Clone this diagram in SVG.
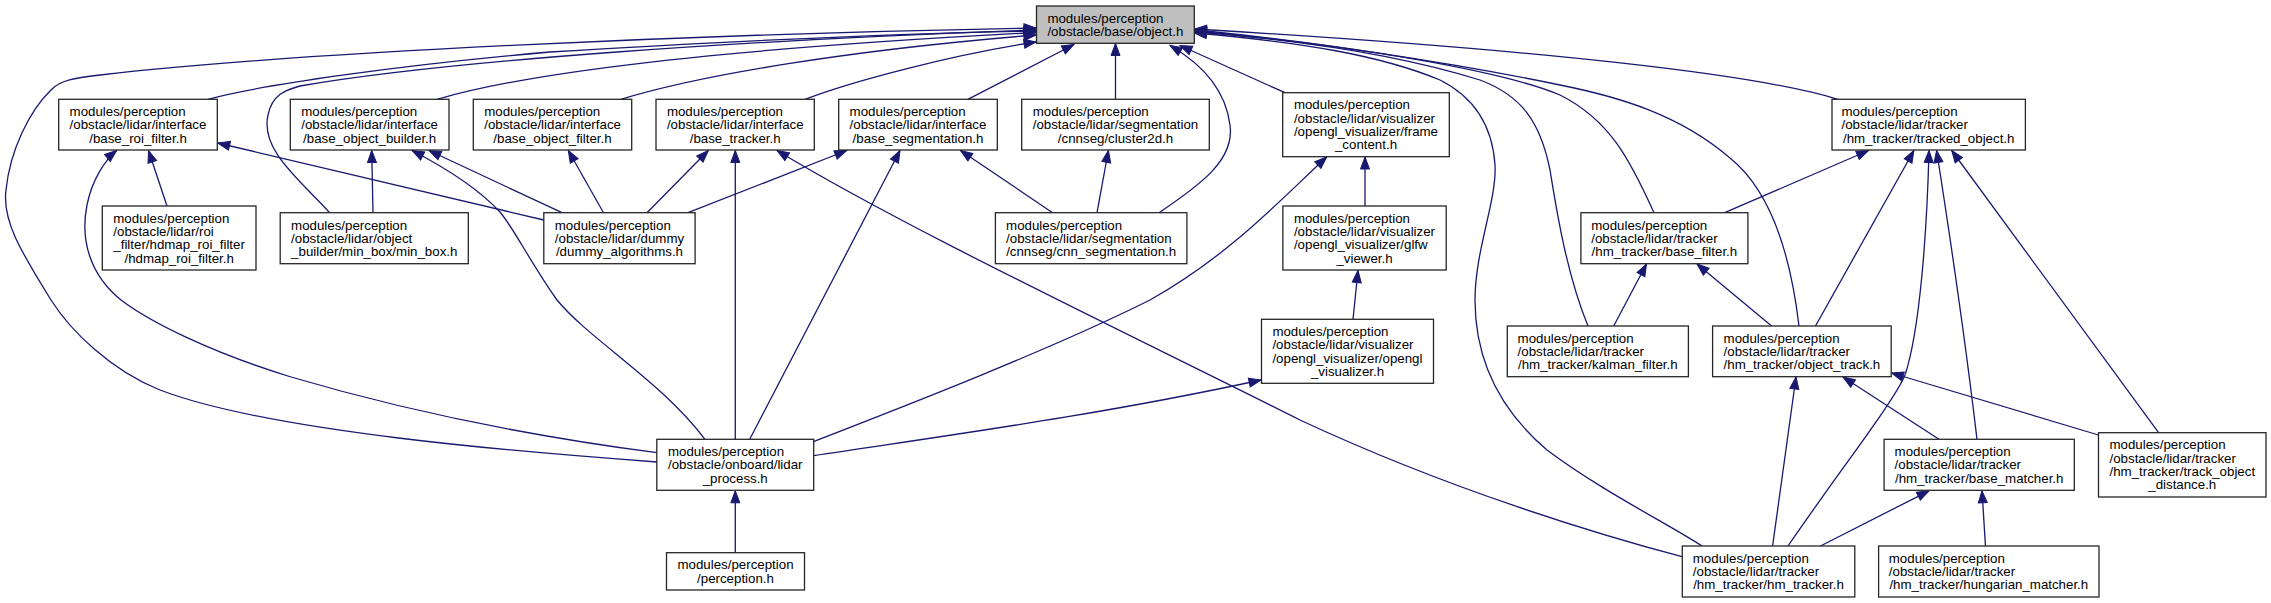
<svg xmlns="http://www.w3.org/2000/svg" width="2271" height="603" viewBox="0 0 2271 603">
<defs>
<style>
.n rect{fill:#ffffff;stroke:#262626;stroke-width:1.3}
.n.root rect{fill:#bfbfbf}
.n text{font-family:"Liberation Sans",Arial,Helvetica,sans-serif;font-size:13.3px;fill:#000}
.n text.c{text-anchor:middle}
.e path{fill:none;stroke:#191970;stroke-width:1.3;marker-end:url(#arr)}
</style>
<marker id="arr" markerUnits="userSpaceOnUse" markerWidth="12" markerHeight="9" refX="12" refY="4.5" orient="auto" overflow="visible">
<path d="M0,0 L12,4.5 L0,9 z" fill="#191970" stroke="#191970" stroke-width="1"/>
</marker>
</defs>
<rect width="2271" height="603" fill="#ffffff"/>

<g id="edges" class="e">
<!-- into object.h -->
<path d="M657,462 C520,452 270,432 160,390 C110,370 70,330 51,300 C20,250 2,220 6,190 C10,150 30,110 51,90 C60,80 75,78 100,75 C300,52 700,34 1036,28"/>
<path d="M329.6,212.7 C300,180 260,150 268,115 C272,95 285,90 300,86 C450,60 750,40 1036,30"/>
<path d="M208,99.3 C260,85 400,65 550,52 C750,40 900,33 1036,31"/>
<path d="M437,99.3 C520,75 700,50 1036,32.5"/>
<path d="M621,99.3 C700,75 850,50 1036,35"/>
<path d="M805,99.3 C850,82 950,55 1036,42"/>
<path d="M967.8,99.3 L1074,44.5"/>
<path d="M1115.5,99.3 L1115.5,43.5"/>
<path d="M1159,212.7 C1200,185 1235,160 1230,125 C1225,85 1195,60 1170,45.5"/>
<path d="M1285,92.7 L1180,45.5"/>
<path d="M1838,99.3 C1760,75 1550,50 1194.5,29"/>
<path d="M1799,326 C1790,250 1770,190 1730,158 C1680,115 1620,97 1560,85 C1450,62 1300,40 1194.5,30"/>
<path d="M1654,212.7 C1630,160 1610,120 1560,95 C1500,70 1350,45 1194.5,31"/>
<path d="M1588,326 C1565,270 1555,200 1550,170 C1540,120 1520,95 1480,80 C1400,55 1300,40 1194.5,32"/>
<path d="M1702,546 C1670,525 1600,490 1547,450 C1500,410 1475,360 1475,300 C1475,250 1497,200 1495,165 C1492,120 1470,95 1440,80 C1380,55 1300,42 1194.5,33"/>
<!-- base_roi_filter -->
<path d="M167,206 L148.5,150.5"/>
<path d="M657,452.7 C560,440 430,418 291,377 C210,352 150,322 121,300 C90,275 80,240 87,205 C92,180 105,160 116.7,150.5"/>
<path d="M543.8,220 L217.8,143"/>
<!-- base_object_builder -->
<path d="M373,212.7 L371.7,150.5"/>
<path d="M562,212.7 L429,150.5"/>
<path d="M705,439.3 C660,380 590,340 557,300 C530,262 515,230 500,212 C475,185 440,165 412,150.5"/>
<!-- base_object_filter -->
<path d="M603.5,212.7 L568.3,150.5"/>
<!-- base_tracker -->
<path d="M647,212.7 L708.3,150.5"/>
<path d="M735.3,439.3 L735.3,150.5"/>
<path d="M1682,556.7 C1600,535 1450,490 1300,420 C1100,320 900,225 777,150.5"/>
<!-- base_segmentation -->
<path d="M688,212.7 L846.7,150.5"/>
<path d="M749.7,439.3 L900,150.5"/>
<path d="M1052.6,212.7 L960.5,150.5"/>
<!-- cluster2d -->
<path d="M1097,212.7 L1108.4,150.5"/>
<!-- frame_content -->
<path d="M813,441.7 C900,408 1050,350 1150,300 C1230,255 1280,200 1326.7,157"/>
<path d="M1365,206 L1365,157"/>
<!-- glfw_viewer -->
<path d="M1353,319.3 L1358,270.5"/>
<!-- opengl_visualizer -->
<path d="M813.7,455.7 C950,435 1100,415 1261,380"/>
<!-- lidar_process -->
<path d="M735.3,552.7 L735.3,490.8"/>
<!-- tracked_object -->
<path d="M1724.7,212.7 L1868.5,150.5"/>
<path d="M1815.5,326 L1913.9,150.5"/>
<path d="M1788,546 C1840,470 1895,400 1905,375 C1920,330 1927,230 1929,150.5"/>
<path d="M1977,439.3 C1970,380 1960,300 1936.6,150.5"/>
<path d="M2158.6,432.7 L1951.7,150.5"/>
<!-- base_filter -->
<path d="M1613.7,326 L1646.5,264"/>
<path d="M1771.6,326 L1697,264"/>
<!-- object_track -->
<path d="M1772.6,546 L1796,377"/>
<path d="M1939,439.3 L1843,377"/>
<path d="M2098.5,435 L1891.5,373"/>
<!-- base_matcher -->
<path d="M1820.5,546 L1929,490.8"/>
<path d="M1985.5,546 L1982,490.8"/>
</g>

<g id="object_h" class="n root">
<rect x="1036.5" y="6" width="157.8" height="37.3"/>
<text x="1047.4" y="22.6">modules/perception</text>
<text class="c" x="1115.4" y="35.9">/obstacle/base/object.h</text>
</g>

<g id="base_roi_filter" class="n">
<rect x="58.7" y="99.3" width="158.6" height="50.7"/>
<text x="69.6" y="115.9">modules/perception</text>
<text x="69.6" y="129.25">/obstacle/lidar/interface</text>
<text class="c" x="138" y="142.6">/base_roi_filter.h</text>
</g>

<g id="base_object_builder" class="n">
<rect x="290.3" y="99.3" width="158.7" height="50.7"/>
<text x="301.2" y="115.9">modules/perception</text>
<text x="301.2" y="129.25">/obstacle/lidar/interface</text>
<text class="c" x="369.65" y="142.6">/base_object_builder.h</text>
</g>

<g id="base_object_filter" class="n">
<rect x="473.3" y="99.3" width="158.4" height="50.7"/>
<text x="484.2" y="115.9">modules/perception</text>
<text x="484.2" y="129.25">/obstacle/lidar/interface</text>
<text class="c" x="552.5" y="142.6">/base_object_filter.h</text>
</g>

<g id="base_tracker" class="n">
<rect x="656" y="99.3" width="158.3" height="50.7"/>
<text x="666.9" y="115.9">modules/perception</text>
<text x="666.9" y="129.25">/obstacle/lidar/interface</text>
<text class="c" x="735.15" y="142.6">/base_tracker.h</text>
</g>

<g id="base_segmentation" class="n">
<rect x="838.7" y="99.3" width="158.6" height="50.7"/>
<text x="849.6" y="115.9">modules/perception</text>
<text x="849.6" y="129.25">/obstacle/lidar/interface</text>
<text class="c" x="918" y="142.6">/base_segmentation.h</text>
</g>

<g id="cluster2d" class="n">
<rect x="1021.7" y="99.3" width="187.6" height="50.7"/>
<text x="1032.7" y="115.9">modules/perception</text>
<text x="1032.7" y="129.25">/obstacle/lidar/segmentation</text>
<text class="c" x="1115.5" y="142.6">/cnnseg/cluster2d.h</text>
</g>

<g id="frame_content" class="n">
<rect x="1282.7" y="92.7" width="166.6" height="64"/>
<text x="1293.9" y="109.3">modules/perception</text>
<text x="1293.9" y="122.6">/obstacle/lidar/visualizer</text>
<text x="1293.9" y="135.97">/opengl_visualizer/frame</text>
<text class="c" x="1366" y="149.3">_content.h</text>
</g>

<g id="tracked_object" class="n">
<rect x="1832" y="99.3" width="193.4" height="50.7"/>
<text x="1841.5" y="115.9">modules/perception</text>
<text x="1841.5" y="129.25">/obstacle/lidar/tracker</text>
<text class="c" x="1928.7" y="142.6">/hm_tracker/tracked_object.h</text>
</g>

<g id="hdmap_roi_filter" class="n">
<rect x="102.3" y="206" width="153.7" height="64"/>
<text x="113.3" y="222.6">modules/perception</text>
<text x="113.3" y="235.9">/obstacle/lidar/roi</text>
<text x="113.3" y="249.3">_filter/hdmap_roi_filter</text>
<text class="c" x="179.15" y="262.6">/hdmap_roi_filter.h</text>
</g>

<g id="min_box" class="n">
<rect x="280.2" y="212.7" width="188.1" height="51"/>
<text x="291.1" y="229.5">modules/perception</text>
<text x="291.1" y="242.8">/obstacle/lidar/object</text>
<text class="c" x="374.25" y="256.1">_builder/min_box/min_box.h</text>
</g>

<g id="dummy_algorithms" class="n">
<rect x="543.8" y="212.7" width="151.3" height="51"/>
<text x="554.8" y="229.5">modules/perception</text>
<text x="554.8" y="242.8">/obstacle/lidar/dummy</text>
<text class="c" x="619.45" y="256.1">/dummy_algorithms.h</text>
</g>

<g id="cnn_segmentation" class="n">
<rect x="995.4" y="212.7" width="191.5" height="51"/>
<text x="1006.1" y="229.5">modules/perception</text>
<text x="1006.1" y="242.8">/obstacle/lidar/segmentation</text>
<text class="c" x="1091.15" y="256.1">/cnnseg/cnn_segmentation.h</text>
</g>

<g id="glfw_viewer" class="n">
<rect x="1282.9" y="206" width="163.3" height="64"/>
<text x="1293.9" y="222.6">modules/perception</text>
<text x="1293.9" y="235.9">/obstacle/lidar/visualizer</text>
<text x="1293.9" y="249.3">/opengl_visualizer/glfw</text>
<text class="c" x="1364.55" y="262.6">_viewer.h</text>
</g>

<g id="base_filter" class="n">
<rect x="1580.9" y="212.7" width="167" height="51"/>
<text x="1591.2" y="229.5">modules/perception</text>
<text x="1591.2" y="242.8">/obstacle/lidar/tracker</text>
<text class="c" x="1664.4" y="256.1">/hm_tracker/base_filter.h</text>
</g>

<g id="opengl_visualizer" class="n">
<rect x="1261.5" y="319.3" width="172" height="64"/>
<text x="1272.4" y="335.9">modules/perception</text>
<text x="1272.4" y="349.2">/obstacle/lidar/visualizer</text>
<text x="1272.4" y="362.6">/opengl_visualizer/opengl</text>
<text class="c" x="1347.5" y="375.9">_visualizer.h</text>
</g>

<g id="kalman_filter" class="n">
<rect x="1507.3" y="326" width="181.1" height="50.7"/>
<text x="1517.6" y="342.6">modules/perception</text>
<text x="1517.6" y="355.95">/obstacle/lidar/tracker</text>
<text class="c" x="1597.85" y="369.3">/hm_tracker/kalman_filter.h</text>
</g>

<g id="object_track" class="n">
<rect x="1712.6" y="326" width="178.6" height="50.7"/>
<text x="1723.6" y="342.6">modules/perception</text>
<text x="1723.6" y="355.95">/obstacle/lidar/tracker</text>
<text class="c" x="1801.9" y="369.3">/hm_tracker/object_track.h</text>
</g>

<g id="lidar_process" class="n">
<rect x="656.8" y="439.3" width="156.9" height="51"/>
<text x="668" y="456.1">modules/perception</text>
<text x="668" y="469.4">/obstacle/onboard/lidar</text>
<text class="c" x="735.25" y="482.7">_process.h</text>
</g>

<g id="base_matcher" class="n">
<rect x="1884.1" y="439.3" width="190.2" height="51"/>
<text x="1894.6" y="456.1">modules/perception</text>
<text x="1894.6" y="469.4">/obstacle/lidar/tracker</text>
<text class="c" x="1979.2" y="482.7">/hm_tracker/base_matcher.h</text>
</g>

<g id="track_object_distance" class="n">
<rect x="2098.5" y="432.7" width="167.5" height="64.3"/>
<text x="2109.5" y="449.45">modules/perception</text>
<text x="2109.5" y="462.8">/obstacle/lidar/tracker</text>
<text x="2109.5" y="476.1">/hm_tracker/track_object</text>
<text class="c" x="2182.25" y="489.45">_distance.h</text>
</g>

<g id="perception_h" class="n">
<rect x="666.5" y="552.7" width="138" height="37.3"/>
<text x="677.5" y="569.3">modules/perception</text>
<text class="c" x="735.5" y="582.6">/perception.h</text>
</g>

<g id="hm_tracker" class="n">
<rect x="1682.3" y="546" width="172.5" height="51"/>
<text x="1692.8" y="562.8">modules/perception</text>
<text x="1692.8" y="576.1">/obstacle/lidar/tracker</text>
<text class="c" x="1768.55" y="589.4">/hm_tracker/hm_tracker.h</text>
</g>

<g id="hungarian_matcher" class="n">
<rect x="1878.6" y="546" width="220.4" height="51"/>
<text x="1888.8" y="562.8">modules/perception</text>
<text x="1888.8" y="576.1">/obstacle/lidar/tracker</text>
<text class="c" x="1988.8" y="589.4">/hm_tracker/hungarian_matcher.h</text>
</g>
</svg>
